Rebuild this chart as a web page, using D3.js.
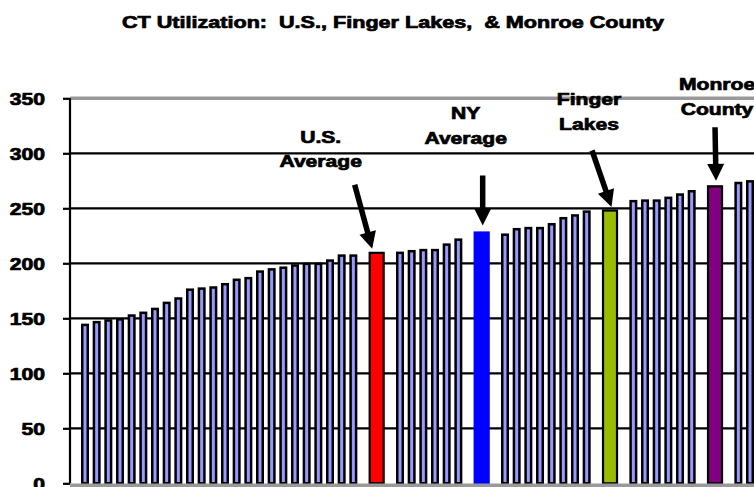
<!DOCTYPE html>
<html><head><meta charset="utf-8">
<script src="https://cdn.jsdelivr.net/npm/d3@7"></script>
<style>body{margin:0;background:#fff} svg{display:block} text{white-space:pre}</style>
</head><body><svg id="c" width="754" height="487"></svg>
<script>
// ---- data ----
const chartTitle = "CT Utilization:  U.S., Finger Lakes,  & Monroe County";
const yTicks = [0, 50, 100, 150, 200, 250, 300, 350];
const facilitiesA = [144, 146.5, 148, 149, 152.5, 155, 158.5, 164, 168, 176, 177, 178, 181, 185, 186.5, 192.5, 194.5, 196, 198, 199.5, 199.5, 202.5, 207, 207];
const facilitiesB = [209.5, 211, 212, 212, 217, 221.5];
const facilitiesC = [226, 231, 232, 232, 235.5, 241, 243.5, 247];
const facilitiesD = [256.5, 257, 257, 259.5, 262.5, 265.5];
const facilitiesE = [273, 274.5];
const highlightNames = ["U.S. Average", "NY Average", "Finger Lakes", "Monroe County"];
const highlightLines = [["U.S.", "Average"], ["NY", "Average"], ["Finger", "Lakes"], ["Monroe", "County"]];
const highlightValues = [209.5, 228, 248, 270];
const highlightColors = ["#ff0000", "#0000ff", "#99bb00", "#800080"];
const highlightStroke = ["#000", "#0000ff", "#000", "#000"];

// annotation layout (offsets relative to the highlighted bar top)
const arrowTail = [[-22, -68], [1, -57], [-18, -60], [0, -59]];
const arrowTip = [[-4.5, -4], [1, -7], [1.5, -3.5], [1, -5.5]];
const labelOffset = [[-56, -116], [-16, -119], [-21, -111], [2, -102]];

// ---- build slot sequence ----
const groups = [facilitiesA, facilitiesB, facilitiesC, facilitiesD, facilitiesE];
const slots = [];
groups.forEach((g, gi) => {
  g.forEach(v => slots.push({type: "facility", value: v}));
  if (gi < highlightNames.length) {
    slots.push({type: "gap"});
    slots.push({type: "highlight", idx: gi, name: highlightNames[gi], value: highlightValues[gi]});
    slots.push({type: "gap"});
  }
});
slots.forEach((s, i) => s.i = i);

const svg = d3.select("#c");
const FONT = "'Liberation Sans', Arial, sans-serif";
const SX = 1.32;
function heavy(sel) {
  return sel.style("font-family", FONT).style("font-weight", "bold").style("font-size", "16px")
    .attr("fill", "#000").attr("stroke", "#000").attr("stroke-width", 0.7).attr("paint-order", "stroke");
}

const y = d3.scaleLinear().domain([0, 350]).range([483.3, 98.3]);
const x = d3.scaleLinear().domain([0, slots.length - 1]).range([85, 85 + 11.667 * (slots.length - 1)]);

// gridlines
svg.append("g").selectAll("line").data(yTicks.filter(t => t > 0)).join("line")
  .attr("x1", 70).attr("x2", 754)
  .attr("y1", d => y(d)).attr("y2", d => y(d))
  .attr("stroke", d => d === 350 ? "#999" : "#000")
  .attr("stroke-width", d => d === 350 ? 3.5 : 2.2);

// bars
const bars = svg.append("g");
bars.selectAll("rect.f").data(slots.filter(s => s.type === "facility")).join("rect")
  .attr("class", "f")
  .attr("x", d => x(d.i) - 2.75).attr("width", 5.5)
  .attr("y", d => y(d.value)).attr("height", d => y(0) - y(d.value))
  .attr("fill", "#9999ff").attr("stroke", "#000").attr("stroke-width", 2.5);
bars.selectAll("rect.h").data(slots.filter(s => s.type === "highlight")).join("rect")
  .attr("class", "h")
  .attr("x", d => x(d.i) - 7).attr("width", 14)
  .attr("y", d => y(d.value)).attr("height", d => y(0) - y(d.value))
  .attr("fill", d => highlightColors[d.idx]).attr("stroke", d => highlightStroke[d.idx]).attr("stroke-width", 2.2);

// x axis line (gray)
svg.append("line").attr("x1", 70).attr("x2", 754).attr("y1", y(0) + 2).attr("y2", y(0) + 2)
  .attr("stroke", "#999").attr("stroke-width", 3.5);

// y axis
const yAxis = d3.axisLeft(y).tickValues(yTicks).tickSize(7).tickPadding(0).tickFormat(d3.format("d"));
const ya = svg.append("g").attr("transform", "translate(70,0)").call(yAxis);
ya.select(".domain").attr("stroke", "#000").attr("stroke-width", 2.2).attr("d", `M0,${y(350)}V${y(0)}`);
ya.selectAll(".tick line").attr("stroke", "#000").attr("stroke-width", 2.2);
ya.selectAll(".tick text").remove();
heavy(ya.selectAll(".tick").append("text"))
  .attr("text-anchor", "end")
  .attr("transform", `translate(-25,5.8) scale(${SX},1)`)
  .text(d => d);

// title
heavy(svg.append("text"))
  .attr("transform", `translate(393,28) scale(1.35,1)`)
  .attr("text-anchor", "middle")
  .text(chartTitle);

// annotations
const ann = svg.append("g");
slots.filter(s => s.type === "highlight").forEach(s => {
  const bx = x(s.i), by = y(s.value);
  const [tdx, tdy] = arrowTail[s.idx];
  const [pdx, pdy] = arrowTip[s.idx];
  const x0 = bx + tdx, y0 = by + tdy, x1 = bx + pdx, y1 = by + pdy;
  const len = Math.hypot(x1 - x0, y1 - y0);
  const ux = (x1 - x0) / len, uy = (y1 - y0) / len;
  const headL = 17, headW = 8.5;
  const hx = x1 - ux * headL, hy = y1 - uy * headL;
  ann.append("line").attr("x1", x0).attr("y1", y0).attr("x2", hx + ux).attr("y2", hy + uy)
    .attr("stroke", "#000").attr("stroke-width", 5.5);
  ann.append("path")
    .attr("d", `M${x1},${y1}L${hx - uy * headW},${hy + ux * headW}L${hx + uy * headW},${hy - ux * headW}Z`)
    .attr("fill", "#000");
  const [ldx, ldy] = labelOffset[s.idx];
  highlightLines[s.idx].forEach((t, li) => {
    heavy(ann.append("text"))
      .attr("transform", `translate(${bx + ldx},${by + ldy + li * 24.5 + 5.8}) scale(${SX},1)`)
      .attr("text-anchor", "middle")
      .text(t);
  });
});
</script>
</body></html>
